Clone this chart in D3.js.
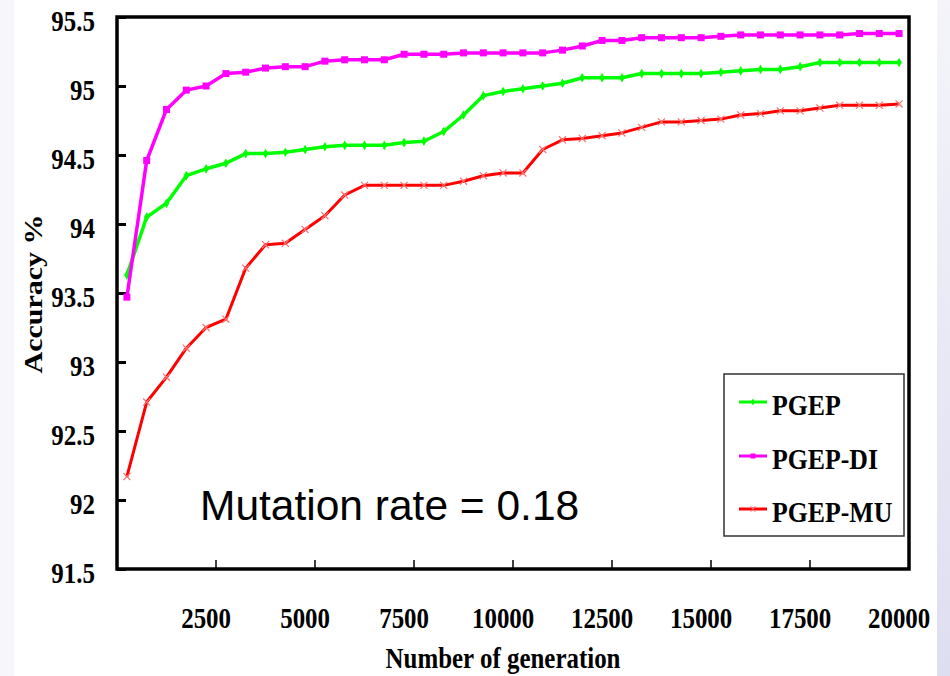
<!DOCTYPE html>
<html>
<head>
<meta charset="utf-8">
<script src="https://cdn.jsdelivr.net/npm/d3@7"></script>
<style>
  html, body { margin: 0; padding: 0; background: #ffffff; }
  svg { display: block; }
</style>
</head>
<body>
<svg id="chart" width="950" height="676"></svg>
<script>
// Generation checkpoints (category axis)
const generations = [500, 1000, 1500, 2000, 2500, 3000, 3500, 4000, 4500, 5000,
  5500, 6000, 6500, 7000, 7500, 8000, 8500, 9000, 9500, 10000,
  10500, 11000, 11500, 12000, 12500, 13000, 13500, 14000, 14500, 15000,
  15500, 16000, 16500, 17000, 17500, 18000, 18500, 19000, 19500, 20000];

// Accuracy (%) of each method at every checkpoint
const pgep = [93.63, 94.05, 94.15, 94.35, 94.40, 94.44, 94.51, 94.51, 94.52, 94.54,
  94.56, 94.57, 94.57, 94.57, 94.59, 94.60, 94.67, 94.79, 94.93, 94.96,
  94.98, 95.00, 95.02, 95.06, 95.06, 95.06, 95.09, 95.09, 95.09, 95.09,
  95.10, 95.11, 95.12, 95.12, 95.14, 95.17, 95.17, 95.17, 95.17, 95.17];
const pgepDI = [93.47, 94.46, 94.83, 94.97, 95.00, 95.09, 95.10, 95.13, 95.14, 95.14,
  95.18, 95.19, 95.19, 95.19, 95.23, 95.23, 95.23, 95.24, 95.24, 95.24,
  95.24, 95.24, 95.26, 95.29, 95.33, 95.33, 95.35, 95.35, 95.35, 95.35,
  95.36, 95.37, 95.37, 95.37, 95.37, 95.37, 95.37, 95.38, 95.38, 95.38];
const pgepMU = [92.17, 92.71, 92.89, 93.10, 93.25, 93.31, 93.68, 93.85, 93.86, 93.96,
  94.06, 94.21, 94.28, 94.28, 94.28, 94.28, 94.28, 94.31, 94.35, 94.37,
  94.37, 94.54, 94.61, 94.62, 94.64, 94.66, 94.70, 94.74, 94.74, 94.75,
  94.76, 94.79, 94.80, 94.82, 94.82, 94.84, 94.86, 94.86, 94.86, 94.87];

const seriesNames = ["PGEP", "PGEP-DI", "PGEP-MU"];
const xTickLabels = [2500, 5000, 7500, 10000, 12500, 15000, 17500, 20000];
const yTickLabels = [91.5, 92, 92.5, 93, 93.5, 94, 94.5, 95, 95.5];
const noteText = "Mutation rate = 0.18";

const svg = d3.select("#chart");
const W = 950, H = 676;
const plot = { left: 117, right: 909, top: 17, bottom: 569 };
const serif = "'Liberation Serif', 'Times New Roman', serif";
const squeeze = 0.86;

// Soft slide-background bands at the page edges
const defs = svg.append("defs");
const grad = defs.append("linearGradient").attr("id", "edge").attr("x1", 0).attr("y1", 0).attr("x2", 0).attr("y2", 1);
grad.append("stop").attr("offset", "0%").attr("stop-color", "#f4f4fa");
grad.append("stop").attr("offset", "100%").attr("stop-color", "#dedef1");
svg.append("rect").attr("x", 0).attr("y", 0).attr("width", 14).attr("height", H).attr("fill", "#f6f6fb");
svg.append("rect").attr("x", 937).attr("y", 0).attr("width", 13).attr("height", H).attr("fill", "url(#edge)");

const x = d3.scaleBand().domain(generations).range([plot.left, plot.right]).padding(0);
const y = d3.scaleLinear().domain([91.5, 95.5]).range([plot.bottom, plot.top]);
const cx = g => x(g) + x.bandwidth() / 2;

// Plot frame
svg.append("rect")
  .attr("x", plot.left).attr("y", plot.top)
  .attr("width", plot.right - plot.left).attr("height", plot.bottom - plot.top)
  .attr("fill", "#ffffff").attr("stroke", "#000").attr("stroke-width", 3.5);

// Y axis (inward ticks)
const yAxis = svg.append("g")
  .attr("transform", `translate(${plot.left},0)`)
  .call(d3.axisLeft(y).tickValues(yTickLabels).tickSize(-9).tickFormat(d3.format("")));
yAxis.select(".domain").remove();
yAxis.selectAll(".tick line").attr("stroke", "#000").attr("stroke-width", 3);
yAxis.selectAll(".tick text")
  .attr("x", 0).attr("dy", null).attr("y", 0)
  .attr("text-anchor", "end")
  .attr("transform", `translate(-22,13) scale(${squeeze},1)`)
  .style("font-family", serif).style("font-weight", "bold").style("font-size", "29px")
  .attr("fill", "#000");

// X axis labels, centred on their categories
const xAxis = svg.append("g")
  .attr("transform", `translate(0,${plot.bottom})`)
  .call(d3.axisBottom(x).tickValues(xTickLabels).tickSize(0));
xAxis.select(".domain").remove();
xAxis.selectAll(".tick text")
  .attr("y", 0).attr("dy", null)
  .attr("text-anchor", "middle")
  .attr("transform", `translate(0,59) scale(${squeeze},1)`)
  .style("font-family", serif).style("font-weight", "bold").style("font-size", "29px")
  .attr("fill", "#000");

// X tick marks sit on the category boundaries after each labelled group
svg.append("g").selectAll("line")
  .data(xTickLabels.slice(0, -1))
  .join("line")
  .attr("x1", d => x(d) + x.bandwidth()).attr("x2", d => x(d) + x.bandwidth())
  .attr("y1", plot.bottom).attr("y2", plot.bottom - 9)
  .attr("stroke", "#000").attr("stroke-width", 1.5);

// Axis titles
svg.append("text")
  .attr("transform", `translate(503,668) scale(${squeeze},1)`)
  .attr("text-anchor", "middle")
  .style("font-family", serif).style("font-weight", "bold").style("font-size", "29px")
  .text("Number of generation");
svg.append("text")
  .attr("transform", `translate(42,294) rotate(-90) scale(1,${squeeze})`)
  .attr("text-anchor", "middle")
  .style("font-family", serif).style("font-weight", "bold").style("font-size", "30px")
  .text("Accuracy %");

// Series
const series = [
  { name: seriesNames[0], values: pgep, color: "#00ff00", marker: "diamond", width: 3.5 },
  { name: seriesNames[1], values: pgepDI, color: "#ff00ff", marker: "square", width: 3.5 },
  { name: seriesNames[2], values: pgepMU, color: "#ff0000", marker: "cross", width: 3 }
];

const line = d3.line().x(d => cx(d.g)).y(d => y(d.v));

function drawMarker(sel, s, size) {
  if (s.marker === "square") {
    sel.append("rect")
      .attr("x", -size / 2).attr("y", -size / 2).attr("width", size).attr("height", size)
      .attr("fill", s.color);
  } else if (s.marker === "diamond") {
    sel.append("path")
      .attr("d", d3.symbol(d3.symbolDiamond, size * size * 0.55)())
      .attr("fill", s.color);
  } else {
    sel.append("path")
      .attr("d", d3.symbol(d3.symbolTimes, size * size * 0.7)())
      .attr("fill", "none").attr("stroke", "#ff7070").attr("stroke-width", 1.2);
  }
}

series.forEach(s => {
  const pts = generations.map((g, i) => ({ g, v: s.values[i] }));
  const grp = svg.append("g");
  grp.append("path").datum(pts)
    .attr("d", line)
    .attr("fill", "none").attr("stroke", s.color)
    .attr("stroke-width", s.width).attr("stroke-linejoin", "round");
  grp.selectAll("g.pt").data(pts).join("g")
    .attr("class", "pt")
    .attr("transform", d => `translate(${cx(d.g)},${y(d.v)})`)
    .each(function () { drawMarker(d3.select(this), s, s.marker === "square" ? 7 : 7); });
});

// Legend
const legend = svg.append("g");
legend.append("rect")
  .attr("x", 724).attr("y", 374).attr("width", 180).attr("height", 162)
  .attr("fill", "#ffffff").attr("stroke", "#333").attr("stroke-width", 1.5);
const legendRows = [402, 456, 509];
series.forEach((s, i) => {
  const row = legend.append("g").attr("transform", `translate(0,${legendRows[i]})`);
  row.append("line").attr("x1", 739).attr("x2", 767).attr("y1", 0).attr("y2", 0)
    .attr("stroke", s.color).attr("stroke-width", 3);
  const m = row.append("g").attr("transform", "translate(753,0)");
  drawMarker(m, s, 5);
  row.append("text")
    .attr("transform", `translate(772,13) scale(${squeeze},1)`)
    .style("font-family", serif).style("font-weight", "bold").style("font-size", "30px")
    .text(s.name);
});

// Annotation
svg.append("text")
  .attr("x", 200).attr("y", 520)
  .style("font-family", "'Liberation Sans', Arial, sans-serif").style("font-size", "42.5px")
  .attr("fill", "#000")
  .text(noteText);
</script>
</body>
</html>
